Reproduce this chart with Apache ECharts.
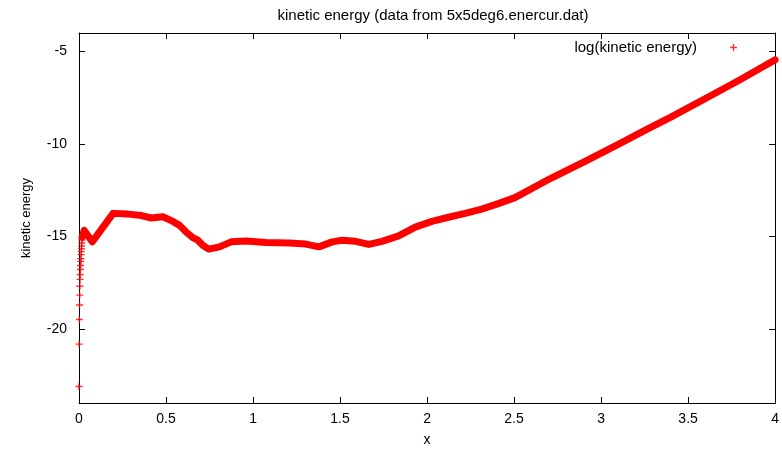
<!DOCTYPE html>
<html>
<head>
<meta charset="utf-8">
<script src="https://cdn.jsdelivr.net/npm/echarts@6/dist/echarts.min.js"></script>
<style>html,body{margin:0;padding:0;background:#fff}#c{width:782px;height:452px}</style>
</head>
<body>
<div id="c"></div>
<script>
// Sparse start of the data (individual markers)
const headX = [0, 0.001, 0.002, 0.003, 0.004, 0.005, 0.006, 0.007, 0.008, 0.009, 0.010, 0.011, 0.012, 0.013, 0.014, 0.015, 0.016, 0.017, 0.018];
const headY = [-23.11, -20.82, -19.49, -18.70, -18.17, -17.69, -17.32, -17.05, -16.78, -16.57, -16.36, -16.20, -15.98, -15.82, -15.66, -15.51, -15.35, -15.19, -15.03];
// Dense remainder of the data (markers overlap into a thick band)
const curveX = [0.018, 0.030, 0.076, 0.196, 0.282, 0.359, 0.416, 0.482, 0.530, 0.578, 0.616, 0.654, 0.683, 0.711, 0.746, 0.807, 0.874, 0.960, 1.074, 1.207, 1.303, 1.379, 1.455, 1.512, 1.589, 1.665, 1.741, 1.837, 1.932, 2.028, 2.123, 2.219, 2.314, 2.409, 2.505, 2.714, 2.905, 3.096, 3.268, 3.401, 3.592, 3.783, 3.983, 4.0];
const curveY = [-15.03, -14.67, -15.29, -13.75, -13.79, -13.87, -14.00, -13.93, -14.14, -14.40, -14.76, -15.06, -15.20, -15.47, -15.68, -15.56, -15.29, -15.24, -15.33, -15.35, -15.41, -15.56, -15.29, -15.20, -15.26, -15.43, -15.26, -14.97, -14.49, -14.18, -13.96, -13.75, -13.52, -13.22, -12.90, -11.84, -10.95, -10.03, -9.18, -8.55, -7.58, -6.61, -5.54, -5.45];
const xTicks = [0, 0.5, 1, 1.5, 2, 2.5, 3, 3.5, 4];
const yTicks = [-20, -15, -10, -5];
const seriesName = 'log(kinetic energy)';

const plus = 'path://M4,0h2v4h4v2h-4v4h-2v-4h-4v-2h4z';
const font = 'Liberation Sans';
const chart = echarts.init(document.getElementById('c'), null, {renderer: 'canvas'});
const axisLine = {show: true, onZero: false, lineStyle: {color: '#000', width: 1}};
chart.setOption({
  animation: false,
  backgroundColor: '#fff',
  title: {
    text: 'kinetic energy (data from 5x5deg6.enercur.dat)',
    left: 428, top: 3, textAlign: 'center',
    textStyle: {fontFamily: font, fontSize: 15, fontWeight: 'normal', color: '#000'}
  },
  legend: {
    data: [{name: seriesName, icon: plus}],
    right: 40, top: 35, align: 'right',
    itemWidth: 7, itemHeight: 7,
    textStyle: {fontFamily: font, fontSize: 15, color: '#000', padding: [0, 28, 0, 0]}
  },
  grid: {left: 79, right: 4, top: 33, bottom: 44, containLabel: false},
  xAxis: [{
    type: 'value', min: 0, max: 4, position: 'bottom',
    name: 'x', nameLocation: 'middle', nameGap: 30,
    nameTextStyle: {fontFamily: font, fontSize: 14, color: '#000'},
    axisLine: axisLine,
    axisTick: {show: true, inside: true, length: 6, customValues: xTicks, lineStyle: {color: '#000'}},
    axisLabel: {customValues: xTicks, margin: 9, fontFamily: font, fontSize: 14, color: '#000'},
    splitLine: {show: false}
  }, {
    type: 'value', min: 0, max: 4, position: 'top',
    axisLine: axisLine,
    axisTick: {show: true, inside: true, length: 6, customValues: xTicks, lineStyle: {color: '#000'}},
    axisLabel: {show: false},
    splitLine: {show: false}
  }],
  yAxis: [{
    type: 'value', min: -24, max: -4, position: 'left',
    name: 'kinetic energy', nameLocation: 'middle', nameGap: 46, nameRotate: 90,
    nameTextStyle: {fontFamily: font, fontSize: 13, color: '#000'},
    axisLine: axisLine,
    axisTick: {show: true, inside: true, length: 6, customValues: yTicks, lineStyle: {color: '#000'}},
    axisLabel: {customValues: yTicks, margin: 12, fontFamily: font, fontSize: 14, color: '#000'},
    splitLine: {show: false}
  }, {
    type: 'value', min: -24, max: -4, position: 'right',
    axisLine: axisLine,
    axisTick: {show: true, inside: true, length: 6, customValues: yTicks, lineStyle: {color: '#000'}},
    axisLabel: {show: false},
    splitLine: {show: false}
  }],
  series: [{
    name: seriesName,
    type: 'scatter',
    symbol: plus, symbolSize: 7,
    itemStyle: {color: '#ff0000'},
    data: headX.map((x, i) => [x, headY[i]])
  }, {
    name: 'band',
    type: 'line',
    symbol: 'none',
    lineStyle: {color: '#ff0000', width: 7, join: 'round', cap: 'round'},
    data: curveX.map((x, i) => [x, curveY[i]])
  }]
});
</script>
</body>
</html>
